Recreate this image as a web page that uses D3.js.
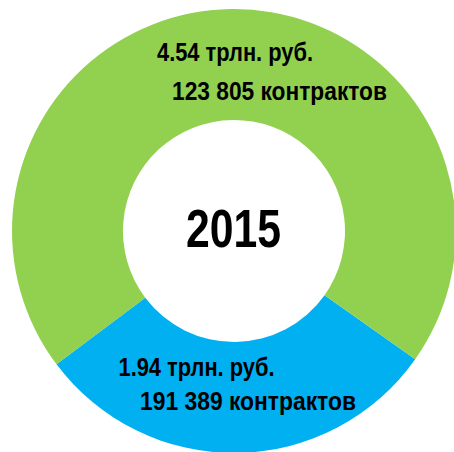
<!DOCTYPE html>
<html><head><meta charset="utf-8">
<script src="https://cdn.jsdelivr.net/npm/d3@7"></script>
<style>html,body{margin:0;padding:0;background:#fff;overflow:hidden}</style>
</head><body>
<svg id="chart" width="454" height="452"></svg>
<script>
const categories = ["blue", "green"];
const values = [1.94, 4.54];
const valueLabels = ["1.94 трлн. руб.", "4.54 трлн. руб."];
const countLabels = ["191 389 контрактов", "123 805 контрактов"];
const centerLabel = "2015";
const colors = ["#00B0F0", "#92D050"];

const svg = d3.select("#chart");
const cx = 234, cy = 231, rOuter = 222, rInner = 111;
const start = 125.3 * Math.PI / 180;
const pie = d3.pie().sort(null).value(d => d).startAngle(start).endAngle(start + 2 * Math.PI);
const arc = d3.arc().innerRadius(rInner).outerRadius(rOuter);
const g = svg.append("g").attr("transform", `translate(${cx},${cy})`);
g.selectAll("path").data(pie(values)).join("path")
  .attr("d", arc).attr("fill", (d, i) => colors[i]);

const font = "'Liberation Sans Narrow','Arial Narrow','Liberation Sans',Arial,sans-serif";
// label layout (positions per category)
const layout = {
  green: {l1: [157, 61, 156], l2: [172, 99.5, 215]},
  blue: {l1: [118.5, 376, 156], l2: [140, 410, 216]}
};
categories.forEach((c, i) => {
  const L = layout[c];
  [[valueLabels[i], L.l1], [countLabels[i], L.l2]].forEach(([t, p]) => {
    svg.append("text").attr("x", p[0]).attr("y", p[1])
      .attr("font-family", font).attr("font-weight", "bold").attr("font-size", 26.5)
      .attr("textLength", p[2]).attr("lengthAdjust", "spacingAndGlyphs")
      .attr("fill", "#000").text(t);
  });
});
svg.append("text").attr("x", 186).attr("y", 246.7)
  .attr("font-family", font).attr("font-weight", "bold").attr("font-size", 54)
  .attr("textLength", 95).attr("lengthAdjust", "spacingAndGlyphs")
  .attr("fill", "#000").text(centerLabel);
</script>
</body></html>
